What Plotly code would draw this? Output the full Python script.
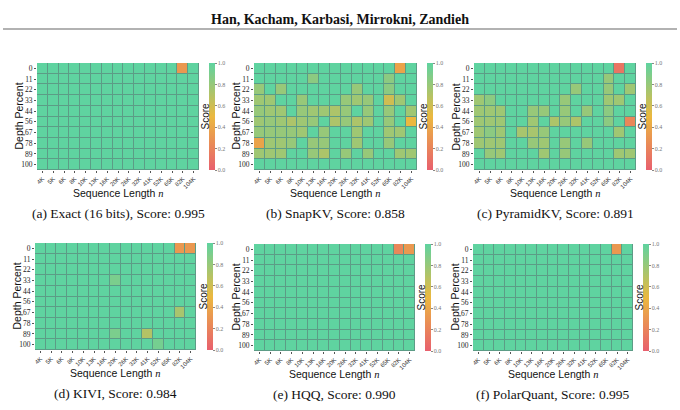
import plotly.graph_objects as go

x_labels = ["4K", "5K", "6K", "8K", "10K", "13K", "16K", "20K", "26K", "32K", "41K", "52K", "65K", "82K", "104K"]
y_labels = ["0", "11", "22", "33", "44", "56", "67", "78", "89", "100"]

exact = [
    [1, 1, 1, 1, 1, 1, 1, 1, 1, 1, 1, 1, 1, 0.32, 1],
    [1, 1, 1, 1, 1, 1, 1, 1, 1, 1, 1, 1, 1, 1, 1],
    [1, 1, 1, 1, 1, 1, 1, 1, 1, 1, 1, 1, 1, 1, 1],
    [1, 1, 1, 1, 1, 1, 1, 1, 1, 1, 1, 1, 1, 1, 1],
    [1, 1, 1, 1, 1, 1, 1, 1, 1, 1, 1, 1, 1, 1, 1],
    [1, 1, 1, 1, 1, 1, 1, 1, 1, 1, 1, 1, 1, 1, 1],
    [1, 1, 1, 1, 1, 1, 1, 1, 1, 1, 1, 1, 1, 1, 1],
    [1, 1, 1, 1, 1, 1, 1, 1, 1, 1, 1, 1, 1, 1, 1],
    [1, 1, 1, 1, 1, 1, 1, 1, 1, 1, 1, 1, 1, 1, 1],
    [1, 1, 1, 1, 1, 1, 1, 1, 1, 1, 1, 1, 1, 1, 1],
]

snapkv = [
    [1, 1, 1, 1, 1, 1, 1, 1, 1, 1, 1, 1, 1, 0.38, 1],
    [1, 1, 1, 1, 1, 0.84, 1, 1, 1, 1, 1, 1, 0.84, 1, 1],
    [0.8, 1, 0.8, 1, 1, 1, 1, 1, 1, 0.8, 1, 1, 0.84, 1, 1],
    [0.77, 0.77, 1, 1, 0.8, 1, 1, 1, 0.8, 0.77, 0.8, 1, 0.6, 0.77, 1],
    [0.8, 0.77, 0.77, 1, 0.8, 0.77, 0.77, 0.72, 0.8, 1, 0.8, 1, 0.8, 1, 0.77],
    [0.77, 0.8, 0.77, 0.72, 0.77, 0.8, 1, 0.72, 0.8, 0.72, 0.77, 1, 0.8, 1, 0.5],
    [0.8, 0.8, 0.8, 0.8, 0.77, 1, 0.8, 1, 1, 0.77, 1, 1, 0.77, 0.77, 1],
    [0.38, 0.77, 0.77, 0.8, 1, 0.8, 0.8, 1, 1, 0.77, 1, 1, 0.8, 1, 1],
    [0.77, 0.77, 0.77, 1, 1, 0.8, 0.72, 1, 0.8, 1, 0.8, 1, 1, 0.77, 0.77],
    [1, 1, 1, 1, 1, 1, 1, 1, 1, 1, 1, 1, 1, 1, 1],
]

pyramidkv = [
    [1, 1, 1, 1, 1, 1, 1, 1, 1, 1, 1, 1, 1, 0.12, 1],
    [1, 1, 1, 1, 1, 1, 1, 1, 1, 1, 1, 1, 0.8, 1, 1],
    [1, 1, 1, 1, 1, 1, 1, 1, 1, 0.8, 1, 1, 0.8, 1, 0.77],
    [0.77, 0.84, 1, 1, 1, 1, 1, 1, 0.8, 1, 1, 1, 0.77, 0.77, 1],
    [0.77, 0.77, 0.77, 1, 1, 0.8, 0.8, 1, 0.8, 1, 0.8, 1, 0.84, 1, 1],
    [0.77, 0.77, 0.77, 1, 1, 0.77, 1, 0.72, 0.8, 0.72, 1, 1, 0.84, 1, 0.22],
    [0.77, 0.84, 0.77, 1, 0.74, 0.74, 0.8, 1, 1, 1, 1, 1, 1, 0.77, 1],
    [0.77, 0.77, 0.77, 1, 1, 0.8, 0.77, 1, 0.8, 1, 0.8, 1, 1, 1, 1],
    [1, 0.8, 0.77, 1, 1, 1, 0.77, 1, 0.8, 1, 1, 1, 1, 0.77, 0.77],
    [1, 1, 1, 1, 1, 1, 1, 1, 1, 1, 1, 1, 1, 1, 1],
]

kivi = [
    [1, 1, 1, 1, 1, 1, 1, 1, 1, 1, 1, 1, 1, 0.32, 0.32],
    [1, 1, 1, 1, 1, 1, 1, 1, 1, 1, 1, 1, 1, 1, 1],
    [1, 1, 1, 1, 1, 1, 1, 1, 1, 1, 1, 1, 1, 1, 1],
    [1, 1, 1, 1, 1, 1, 1, 0.9, 1, 1, 1, 1, 1, 1, 1],
    [1, 1, 1, 1, 1, 1, 1, 1, 1, 1, 1, 1, 1, 1, 1],
    [1, 1, 1, 1, 1, 1, 1, 1, 1, 1, 1, 1, 1, 1, 1],
    [1, 1, 1, 1, 1, 1, 1, 1, 1, 1, 1, 1, 1, 0.74, 1],
    [1, 1, 1, 1, 1, 1, 1, 1, 1, 1, 1, 1, 1, 1, 1],
    [1, 1, 1, 1, 1, 1, 1, 0.9, 1, 1, 0.7, 1, 1, 1, 1],
    [1, 1, 1, 1, 1, 1, 1, 1, 1, 1, 1, 0.92, 1, 1, 1],
]

hqq = [
    [1, 1, 1, 1, 1, 1, 1, 1, 1, 1, 1, 1, 1, 0.22, 0.32],
    [1, 1, 1, 1, 1, 1, 1, 1, 1, 1, 1, 1, 1, 1, 1],
    [1, 1, 1, 1, 1, 1, 1, 1, 1, 1, 1, 1, 1, 1, 1],
    [1, 1, 1, 1, 1, 1, 1, 1, 1, 1, 1, 1, 1, 1, 1],
    [1, 1, 1, 1, 1, 1, 1, 1, 1, 1, 1, 1, 1, 1, 1],
    [1, 1, 1, 1, 1, 1, 1, 1, 1, 1, 1, 1, 1, 1, 1],
    [1, 1, 1, 1, 1, 1, 1, 1, 1, 1, 1, 1, 1, 1, 1],
    [1, 1, 1, 1, 1, 1, 1, 1, 1, 1, 1, 1, 1, 1, 1],
    [1, 1, 1, 1, 1, 1, 1, 1, 1, 1, 1, 1, 1, 1, 1],
    [1, 1, 1, 1, 1, 1, 1, 1, 1, 1, 1, 1, 1, 1, 1],
]

polarquant = [
    [1, 1, 1, 1, 1, 1, 1, 1, 1, 1, 1, 1, 1, 0.32, 1],
    [1, 1, 1, 1, 1, 1, 1, 1, 1, 1, 1, 1, 1, 1, 1],
    [1, 1, 1, 1, 1, 1, 1, 1, 1, 1, 1, 1, 1, 1, 1],
    [1, 1, 1, 1, 1, 1, 1, 1, 1, 1, 1, 1, 1, 1, 1],
    [1, 1, 1, 1, 1, 1, 1, 1, 1, 1, 1, 1, 1, 1, 1],
    [1, 1, 1, 1, 1, 1, 1, 1, 1, 1, 1, 1, 1, 1, 1],
    [1, 1, 1, 1, 1, 1, 1, 1, 1, 1, 1, 1, 1, 1, 1],
    [1, 1, 1, 1, 1, 1, 1, 1, 1, 1, 1, 1, 1, 1, 1],
    [1, 1, 1, 1, 1, 1, 1, 1, 1, 1, 1, 1, 1, 1, 1],
    [1, 1, 1, 1, 1, 1, 1, 1, 1, 1, 1, 1, 1, 1, 1],
]

panel_data = [exact, snapkv, pyramidkv, kivi, hqq, polarquant]
captions = [
    "(a) Exact (16 bits), Score: 0.995",
    "(b) SnapKV, Score: 0.858",
    "(c) PyramidKV, Score: 0.891",
    "(d) KIVI, Score: 0.984",
    "(e) HQQ, Score: 0.990",
    "(f) PolarQuant, Score: 0.995",
]
header = "Han, Kacham, Karbasi, Mirrokni, Zandieh"

# ---- layout geometry (pixels) ----
W, H = 680, 410
# (left, right, top, bottom) of each heatmap, colorbar left
boxes = [
    (37, 199, 63, 170, 209),
    (254, 417, 63, 170, 427),
    (474, 636, 63, 170, 646),
    (35, 196, 243, 350, 207),
    (254, 415, 244, 351, 425),
    (473, 633, 244, 351, 643),
]

colorscale = [[0.0, "#E8606E"], [0.5, "#EBB83F"], [1.0, "#5FD3A0"]]

SERIF = "Liberation Serif"
SANS = "Liberation Sans"

fig = go.Figure()
annotations = []
layout_axes = {}


def px(x):
    return x / W


def py(y):
    return 1 - y / H


for i, (z, cap, box) in enumerate(zip(panel_data, captions, boxes)):
    l, r, t, b, cbx = box
    n = i + 1
    xa = "x" if n == 1 else f"x{n}"
    ya = "y" if n == 1 else f"y{n}"
    fig.add_trace(go.Heatmap(
        z=z, x=x_labels, y=y_labels,
        xaxis=xa, yaxis=ya,
        zmin=0, zmax=1, colorscale=colorscale,
        xgap=1, ygap=1,
        colorbar=dict(
            x=px(cbx), xanchor="left", xref="paper",
            y=py((t + b) / 2), yanchor="middle", yref="paper",
            len=(b - t) / H, lenmode="fraction",
            thickness=6, thicknessmode="pixels",
            outlinewidth=0,
            tickvals=[0, 0.2, 0.4, 0.6, 0.8, 1.0],
            ticktext=["0.0", "0.2", "0.4", "0.6", "0.8", "1.0"],
            ticks="outside", ticklen=2, tickcolor="#888",
            tickfont=dict(family=SERIF, size=6, color="#777"),
            xpad=0, ypad=0,
        ),
        hoverinfo="skip",
    ))
    xkey = "xaxis" if n == 1 else f"xaxis{n}"
    ykey = "yaxis" if n == 1 else f"yaxis{n}"
    layout_axes[xkey] = dict(
        domain=[px(l), px(r)], anchor=ya, type="category",
        range=[-0.5, len(x_labels) - 0.5],
        tickangle=-45, tickfont=dict(family=SANS, size=6, color="#333"),
        ticks="outside", ticklen=2, tickcolor="#555",
        showgrid=False, zeroline=False, showline=False,
    )
    layout_axes[ykey] = dict(
        domain=[py(b), py(t)], anchor=xa, type="category",
        range=[len(y_labels) - 0.5, -0.5],
        tickfont=dict(family=SERIF, size=7.5, color="#222"),
        ticks="outside", ticklen=2, tickcolor="#555",
        showgrid=False, zeroline=False, showline=False,
    )
    cx = (l + r) / 2
    annotations.append(dict(
        x=px(l - 19), y=py((t + b) / 2), xref="paper", yref="paper",
        text="Depth Percent", textangle=-90, showarrow=False,
        font=dict(family=SANS, size=10.5, color="#111"),
        xanchor="center", yanchor="middle",
    ))
    annotations.append(dict(
        x=px(cx), y=py(b + 23), xref="paper", yref="paper",
        text="Sequence Length <span style='font-family:Liberation Serif'><i>n</i></span>",
        showarrow=False,
        font=dict(family=SANS, size=10.5, color="#111"),
        xanchor="center", yanchor="middle",
    ))
    annotations.append(dict(
        x=px(cbx - 4), y=py((t + b) / 2), xref="paper", yref="paper",
        text="Score", textangle=-90, showarrow=False,
        font=dict(family=SANS, size=10, color="#111"),
        xanchor="center", yanchor="middle",
    ))
    annotations.append(dict(
        x=px(cx), y=py(b + 43), xref="paper", yref="paper",
        text=cap, showarrow=False,
        font=dict(family=SERIF, size=13.5, color="#111"),
        xanchor="center", yanchor="middle",
    ))

annotations.append(dict(
    x=0.5, y=py(19), xref="paper", yref="paper",
    text="<b>" + header + "</b>", showarrow=False,
    font=dict(family=SERIF, size=14, color="#111"),
    xanchor="center", yanchor="middle",
))

fig.update_layout(
    width=W, height=H,
    margin=dict(l=0, r=0, t=0, b=0),
    paper_bgcolor="white",
    plot_bgcolor="#5C9C86",
    annotations=annotations,
    shapes=[dict(type="line", xref="paper", yref="paper",
                 x0=px(3), x1=px(677), y0=py(29), y1=py(29),
                 line=dict(color="#999999", width=1.5))],
    showlegend=False,
    **layout_axes,
)

fig.write_html("out.html", config={"displayModeBar": False},
               post_script="document.body.style.margin='0';")
